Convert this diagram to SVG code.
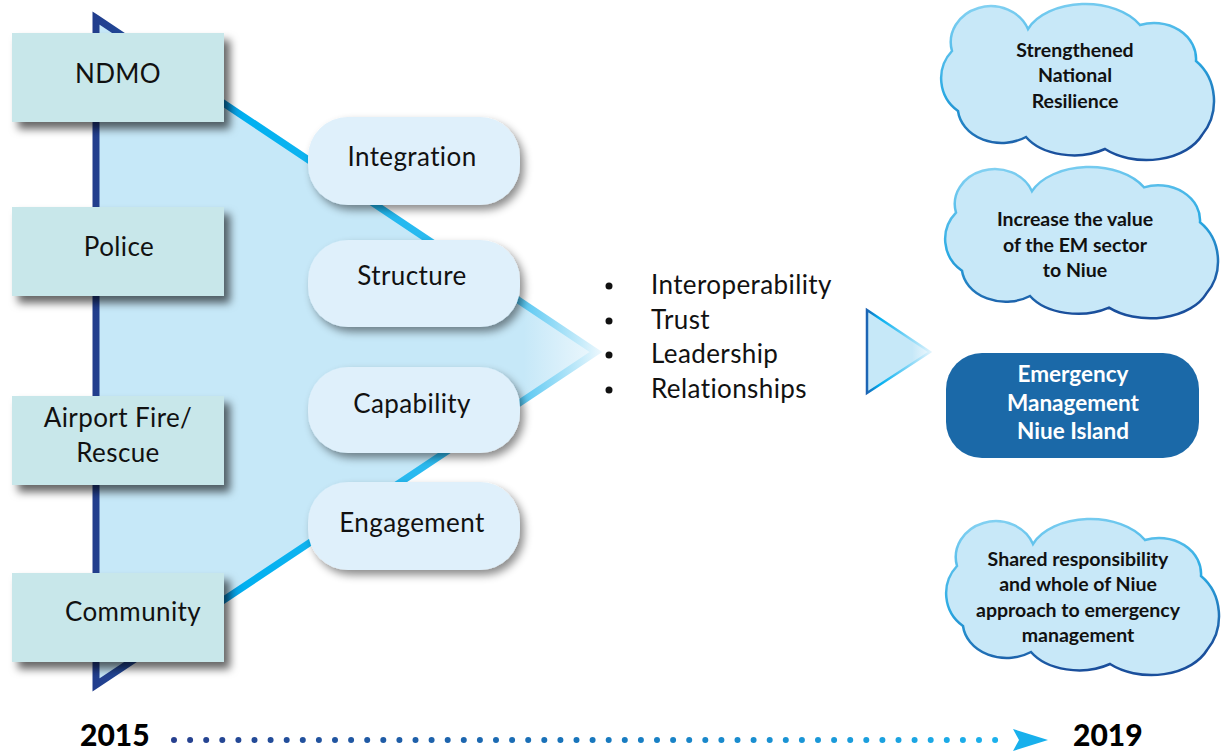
<svg xmlns="http://www.w3.org/2000/svg" width="1221" height="753" viewBox="0 0 1221 753">
<defs>
<style>
.lbl{font-family:Lato,"Open Sans",sans-serif;font-size:26px;letter-spacing:0.4px;fill:#111;text-anchor:middle}
.bul{font-family:Lato,"Open Sans",sans-serif;font-size:26px;letter-spacing:0.4px;fill:#111}
.cl{font-family:Lato,"Open Sans",sans-serif;font-size:19.5px;font-weight:bold;fill:#111;text-anchor:middle}
.em{font-family:Lato,"Open Sans",sans-serif;font-size:22.5px;font-weight:bold;fill:#fff;text-anchor:middle}
.yr{font-family:Lato,"Open Sans",sans-serif;font-size:30px;font-weight:900;fill:#000}
.box{fill:#c8e7ea;filter:url(#sh)}
.pill{fill:#dff0fb;filter:url(#sh2)}
.cloud{fill:#c8e8f8;stroke:url(#cs);stroke-width:2.5}
</style>
<filter id="sh" x="-20%" y="-20%" width="150%" height="160%">
<feDropShadow dx="6" dy="7" stdDeviation="4" flood-color="#000" flood-opacity="0.6"/>
</filter>
<filter id="sh2" x="-20%" y="-20%" width="150%" height="160%">
<feDropShadow dx="4" dy="5" stdDeviation="4" flood-color="#000" flood-opacity="0.45"/>
</filter>
<linearGradient id="ts" gradientUnits="userSpaceOnUse" x1="92" y1="0" x2="600" y2="0">
<stop offset="0" stop-color="#223d8c"/>
<stop offset="0.2" stop-color="#1d5fb0"/>
<stop offset="0.3" stop-color="#00b0f0"/>
<stop offset="0.82" stop-color="#3fbff0"/>
<stop offset="1" stop-color="#eaf7fd"/>
</linearGradient>
<linearGradient id="tf" gradientUnits="userSpaceOnUse" x1="92" y1="0" x2="600" y2="0">
<stop offset="0" stop-color="#c6e8f8"/>
<stop offset="0.85" stop-color="#c6e8f8"/>
<stop offset="1" stop-color="#eef8fd"/>
</linearGradient>
<linearGradient id="ss" gradientUnits="userSpaceOnUse" x1="866" y1="0" x2="932" y2="0">
<stop offset="0" stop-color="#1e5fb0"/>
<stop offset="0.2" stop-color="#00aeef"/>
<stop offset="1" stop-color="#e6f5fd"/>
</linearGradient>
<linearGradient id="sf" gradientUnits="userSpaceOnUse" x1="866" y1="0" x2="932" y2="0">
<stop offset="0" stop-color="#c6e8f8"/>
<stop offset="0.7" stop-color="#c6e8f8"/>
<stop offset="1" stop-color="#f0f9fe"/>
</linearGradient>
<linearGradient id="cs" x1="0" y1="0" x2="0.25" y2="1">
<stop offset="0" stop-color="#8ad4f3"/>
<stop offset="0.55" stop-color="#2aaae3"/>
<stop offset="1" stop-color="#1a4f9c"/>
</linearGradient>
<linearGradient id="dg" gradientUnits="userSpaceOnUse" x1="172" y1="0" x2="1012" y2="0">
<stop offset="0" stop-color="#263f8e"/>
<stop offset="0.5" stop-color="#1877bd"/>
<stop offset="1" stop-color="#1cb3ee"/>
</linearGradient>
<path id="cloudp" d="M12,48 A40,36 0 0 1 88,26 A62,40 0 0 1 200,22 A42,36 0 0 1 256,58 A45,50 0 0 1 262,132 A60,40 0 0 1 165,146 A55,36 0 0 1 86,134 A44,36 0 0 1 18,108 A40,40 0 0 1 12,48 Z"/>
</defs>

<g id="funnel">
<polygon points="96,18 596,352 96,685" fill="url(#tf)" stroke="url(#ts)" stroke-width="7" stroke-linejoin="miter" stroke-miterlimit="20"/>
</g>

<g id="connectors">
<polygon points="867,310 930,352 867,393" fill="url(#sf)" stroke="url(#ss)" stroke-width="2.5"/>
<line x1="174" y1="740" x2="1010" y2="740" stroke="url(#dg)" stroke-width="6" stroke-linecap="round" stroke-dasharray="0 16.1"/>
<polygon points="1013,729 1048,740 1013,751 1019,740" fill="#18b0ec"/>
</g>

<g id="ndmo"><rect class="box" x="12" y="33" width="212" height="89"/><text class="lbl" x="118" y="83">NDMO</text></g>
<g id="police"><rect class="box" x="12" y="207" width="212" height="89"/><text class="lbl" x="119" y="256">Police</text></g>
<g id="airport"><rect class="box" x="12" y="396" width="212" height="89"/><text class="lbl" x="118" y="427">Airport Fire/</text><text class="lbl" x="118" y="462">Rescue</text></g>
<g id="community"><rect class="box" x="12" y="573" width="212" height="89"/><text class="lbl" x="133" y="621">Community</text></g>

<g id="integration"><rect class="pill" x="308" y="117" width="212" height="88" rx="40"/><text class="lbl" x="412" y="166">Integration</text></g>
<g id="structure"><rect class="pill" x="308" y="240" width="212" height="87" rx="40"/><text class="lbl" x="412" y="285">Structure</text></g>
<g id="capability"><rect class="pill" x="308" y="367" width="212" height="86" rx="40"/><text class="lbl" x="412" y="413">Capability</text></g>
<g id="engagement"><rect class="pill" x="308" y="482" width="212" height="88" rx="40"/><text class="lbl" x="412" y="532">Engagement</text></g>

<g id="outcomes">
<circle cx="609" cy="286" r="3.5" fill="#111"/><text class="bul" x="651" y="294">Interoperability</text>
<circle cx="609" cy="321" r="3.5" fill="#111"/><text class="bul" x="651" y="329">Trust</text>
<circle cx="609" cy="355" r="3.5" fill="#111"/><text class="bul" x="651" y="363">Leadership</text>
<circle cx="609" cy="390" r="3.5" fill="#111"/><text class="bul" x="651" y="398">Relationships</text>
</g>

<g id="cloud1"><use href="#cloudp" class="cloud" transform="translate(940,3)"/>
<text class="cl" x="1075" y="57">Strengthened</text><text class="cl" x="1075" y="82">National</text><text class="cl" x="1075" y="108">Resilience</text></g>

<g id="cloud2"><use href="#cloudp" class="cloud" transform="translate(944,166) scale(1,0.97)"/>
<text class="cl" x="1075" y="226">Increase the value</text><text class="cl" x="1075" y="252">of the EM sector</text><text class="cl" x="1075" y="277">to Niue</text></g>

<g id="emni"><rect x="946" y="353" width="253" height="105" rx="36" fill="#1b69a8"/>
<text class="em" x="1073" y="382">Emergency</text><text class="em" x="1073" y="411">Management</text><text class="em" x="1073" y="439">Niue Island</text></g>

<g id="cloud3"><use href="#cloudp" class="cloud" transform="translate(945,518)"/>
<text class="cl" x="1078" y="566">Shared responsibility</text><text class="cl" x="1078" y="591">and whole of Niue</text><text class="cl" x="1078" y="617">approach to emergency</text><text class="cl" x="1078" y="642">management</text></g>

<g id="timeline">
<text class="yr" x="80" y="746">2015</text>
<text class="yr" x="1073" y="746">2019</text>
</g>
</svg>
